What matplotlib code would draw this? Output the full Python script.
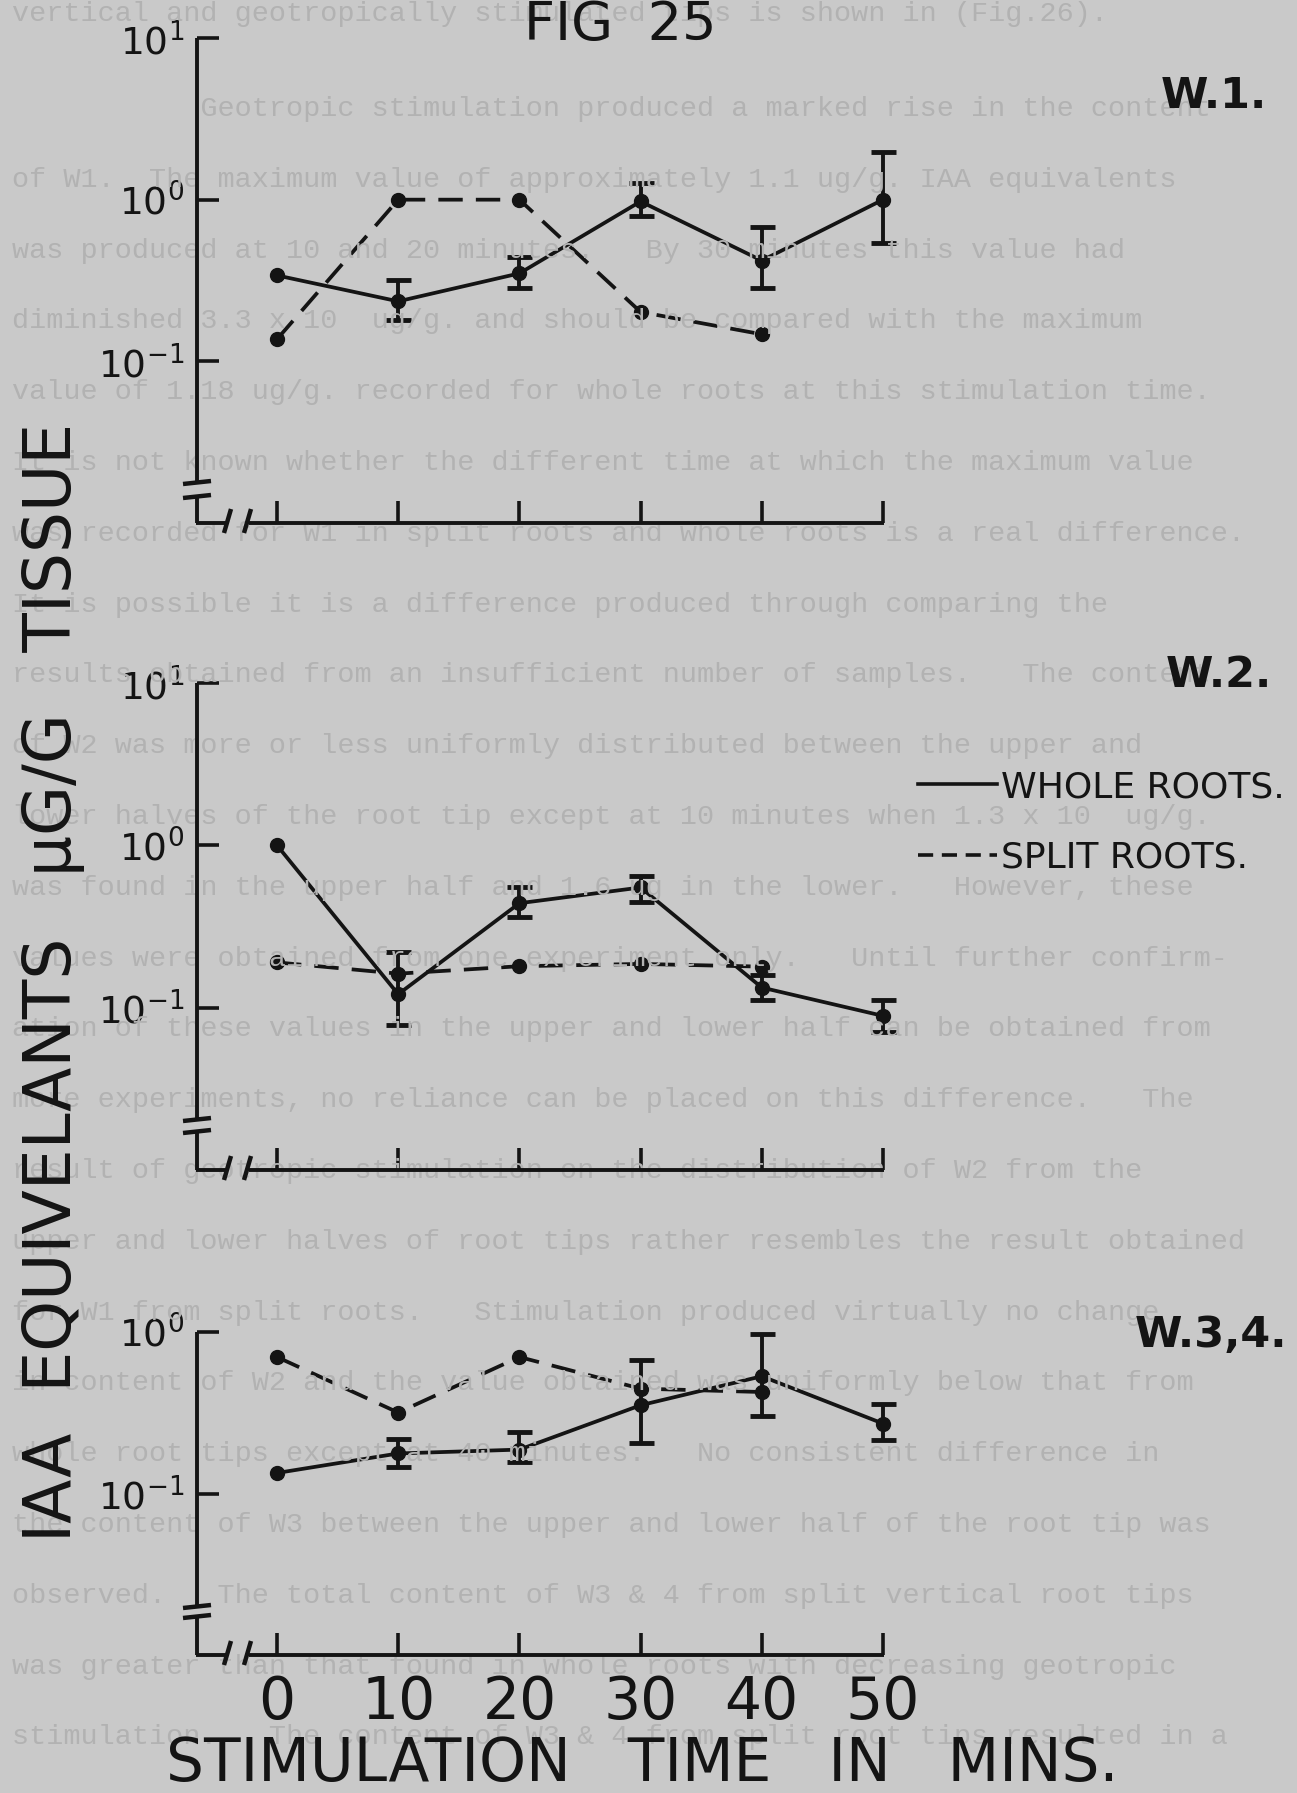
import numpy as np
import matplotlib
matplotlib.use("Agg")
import matplotlib.pyplot as plt
from matplotlib.lines import Line2D
from matplotlib.ticker import NullLocator, FixedLocator

nan = np.nan

# ---------------- data ----------------
times = [0, 10, 20, 30, 40, 50]
x_tick_labels = ["0", "10", "20", "30", "40", "50"]

# W.1.
w1_whole = [0.34, 0.235, 0.35, 0.975, 0.42, 1.0]
w1_whole_lo = [nan, 0.18, 0.286, 0.79, 0.286, 0.54]
w1_whole_hi = [nan, 0.32, 0.44, 1.26, 0.68, 1.98]
w1_split = [0.137, 1.0, 1.0, 0.202, 0.147, nan]

# W.2.
w2_whole = [1.0, 0.121, 0.44, 0.55, 0.133, 0.089]
w2_whole_lo = [nan, 0.078, 0.363, 0.45, 0.112, 0.071]
w2_whole_hi = [nan, 0.22, 0.55, 0.65, 0.158, 0.112]
w2_split = [0.19, 0.162, 0.18, 0.186, 0.179, nan]

# W.3,4.
w3_whole = [0.134, 0.177, 0.187, 0.352, 0.532, 0.271]
w3_whole_lo = [nan, 0.146, 0.157, 0.206, 0.30, 0.214]
w3_whole_hi = [nan, 0.216, 0.24, 0.668, 0.977, 0.36]
w3_split = [0.70, 0.317, 0.70, 0.446, 0.425, nan]

panel_names = ["W.1.", "W.2.", "W.3,4."]
y_ticks_p12 = [1e-1, 1e0, 1e1]
y_tick_labels_p12 = [r"$\mathregular{10^{-1}}$", r"$\mathregular{10^{0}}$", r"$\mathregular{10^{1}}$"]
y_ticks_p3 = [1e-1, 1e0]
y_tick_labels_p3 = [r"$\mathregular{10^{-1}}$", r"$\mathregular{10^{0}}$"]

legend_labels = ["WHOLE ROOTS.", "SPLIT ROOTS."]
y_label = "IAA  EQUIVELANTS   \u03bcG/G   TISSUE"
x_label = "STIMULATION   TIME   IN   MINS."
title = "FIG  25"

page_text_lines = [
    "vertical and geotropically stimulated tips is shown in (Fig.26).",
    "           Geotropic stimulation produced a marked rise in the content",
    "of W1.  The maximum value of approximately 1.1 ug/g. IAA equivalents",
    "was produced at 10 and 20 minutes.   By 30 minutes this value had",
    "diminished 3.3 x 10  ug/g. and should be compared with the maximum",
    "value of 1.18 ug/g. recorded for whole roots at this stimulation time.",
    "It is not known whether the different time at which the maximum value",
    "was recorded for W1 in split roots and whole roots is a real difference.",
    "It is possible it is a difference produced through comparing the",
    "results obtained from an insufficient number of samples.   The content",
    "of W2 was more or less uniformly distributed between the upper and",
    "lower halves of the root tip except at 10 minutes when 1.3 x 10  ug/g.",
    "was found in the upper half and 1.6 ug in the lower.   However, these",
    "values were obtained from one experiment only.   Until further confirm-",
    "ation of these values in the upper and lower half can be obtained from",
    "more experiments, no reliance can be placed on this difference.   The",
    "result of geotropic stimulation on the distribution of W2 from the",
    "upper and lower halves of root tips rather resembles the result obtained",
    "for W1 from split roots.   Stimulation produced virtually no change",
    "in content of W2 and the value obtained was uniformly below that from",
    "whole root tips except at 40 minutes.   No consistent difference in",
    "the content of W3 between the upper and lower half of the root tip was",
    "observed.   The total content of W3 & 4 from split vertical root tips",
    "was greater than that found in whole roots with decreasing geotropic",
    "stimulation.   The content of W3 & 4 from split root tips resulted in a",
]

# ---------------- style / layout ----------------
W, H = 1297, 1793
bg = "#c9c9c9"
ink = "#141414"
faint = "#b2b2b2"
plt.rcParams["font.family"] = ["DejaVu Sans"]
plt.rcParams["mathtext.fontset"] = "dejavusans"

fig = plt.figure(figsize=(W / 100, H / 100), dpi=100, facecolor=bg)


def fx(x):
    return x / W


def fy(y):
    return 1 - y / H


def pline(xs, ys, lw=2.8, **kw):
    fig.add_artist(Line2D([fx(x) for x in xs], [fy(y) for y in ys],
                          color=ink, lw=lw, solid_capstyle="butt", **kw))


# background typed page text (bleed-through of the page under the figure)
line_y = [14] + [109 + 70.8 * i for i in range(len(page_text_lines) - 1)]
for yy, txt in zip(line_y, page_text_lines):
    fig.text(fx(12), fy(yy), txt, fontsize=20.5, family="Liberation Mono",
             color=faint, va="center", ha="left", zorder=0)

axis_left = 197
x0_px, x50_px = 277, 883
xlim_left = -(x0_px - axis_left) / (x50_px - x0_px) * 50

panels = [
    dict(top=38, bottom=523, brk=(483, 497), ylim=(1e-2, 1e1),
         ticks=y_ticks_p12, labels=y_tick_labels_p12,
         whole=w1_whole, lo=w1_whole_lo, hi=w1_whole_hi, split=w1_split,
         name_xy=(1267, 96)),
    dict(top=683, bottom=1170, brk=(1120, 1132), ylim=(1e-2, 1e1),
         ticks=y_ticks_p12, labels=y_tick_labels_p12,
         whole=w2_whole, lo=w2_whole_lo, hi=w2_whole_hi, split=w2_split,
         name_xy=(1272, 675)),
    dict(top=1332, bottom=1655, brk=(1607, 1617), ylim=(1e-2, 1e0),
         ticks=y_ticks_p3, labels=y_tick_labels_p3,
         whole=w3_whole, lo=w3_whole_lo, hi=w3_whole_hi, split=w3_split,
         name_xy=(1287, 1335)),
]

axes = []
for i, p in enumerate(panels):
    ax = fig.add_axes([fx(axis_left), fy(p["bottom"]),
                       (x50_px - axis_left) / W, (p["bottom"] - p["top"]) / H])
    ax.set_facecolor("none")
    ax.set_yscale("log")
    ax.set_ylim(*p["ylim"])
    ax.set_xlim(xlim_left, 50)
    for s in ax.spines.values():
        s.set_visible(False)
    ax.yaxis.set_major_locator(FixedLocator(p["ticks"]))
    ax.set_yticklabels(p["labels"])
    ax.yaxis.set_minor_locator(NullLocator())
    ax.set_xticks(times)
    ax.set_xticklabels(x_tick_labels)
    ax.tick_params(axis="y", direction="in", length=16, width=2.6, colors=ink,
                   labelsize=27, pad=9)
    ax.tick_params(axis="x", direction="in", length=16, width=2.6, colors=ink,
                   labelsize=42, pad=14, labelbottom=(i == 2))

    t = np.array(times, dtype=float)
    whole = np.array(p["whole"])
    lo = np.array(p["lo"])
    hi = np.array(p["hi"])
    split = np.array(p["split"])

    ax.plot(t, whole, "-", color=ink, lw=2.7, marker="o", ms=10,
            clip_on=False, zorder=3)
    ax.plot(t, split, color=ink, lw=2.7, ls=(0, (6.5, 3.5)), marker="o", ms=10,
            clip_on=False, zorder=3)
    m = np.isfinite(lo)
    ax.errorbar(t[m], whole[m], yerr=[whole[m] - lo[m], hi[m] - whole[m]],
                fmt="none", ecolor=ink, elinewidth=2.8, capsize=9, capthick=3.5,
                clip_on=False, zorder=3)

    # panel name
    fig.text(fx(p["name_xy"][0]), fy(p["name_xy"][1]), panel_names[i],
             fontsize=31, fontweight="bold", color=ink, ha="right", va="center")

    # hand-drawn axis frame with breaks
    top, bot = p["top"], p["bottom"]
    b1, b2 = p["brk"]
    pline([axis_left, axis_left], [top, b1])
    pline([axis_left, axis_left], [b2, bot])
    pline([axis_left - 14, axis_left + 14], [b1 + 1, b1 - 2], lw=3.2)
    pline([axis_left - 14, axis_left + 14], [b2 + 1, b2 - 2], lw=3.2)
    pline([axis_left - 1.4, 226], [bot, bot])
    pline([224, 231], [bot + 10, bot - 14], lw=3.2)
    pline([244, 251], [bot + 10, bot - 14], lw=3.2)
    pline([249, x50_px + 1.3], [bot, bot])
    axes.append(ax)

# legend (next to W.2.)
h_whole = Line2D([], [], color=ink, lw=2.6)
h_split = Line2D([], [], color=ink, lw=2.6, ls=(0, (4.2, 2.4)))
fig.legend([h_whole, h_split], legend_labels, loc="upper left",
           bbox_to_anchor=(fx(900), fy(752)), frameon=False, fontsize=26,
           handlelength=2.2, handletextpad=0.1, labelspacing=1.0,
           borderpad=0, labelcolor=ink)

# axis titles
fig.text(fx(53), fy(982), y_label, rotation=90, fontsize=46.5, color=ink,
         ha="center", va="center")
fig.text(fx(642), fy(1765), x_label, fontsize=43, color=ink,
         ha="center", va="center")
fig.text(fx(620), fy(40), title, fontsize=39, color=ink, ha="center",
         va="baseline")

fig.savefig("out.png", dpi=100, facecolor=bg)
